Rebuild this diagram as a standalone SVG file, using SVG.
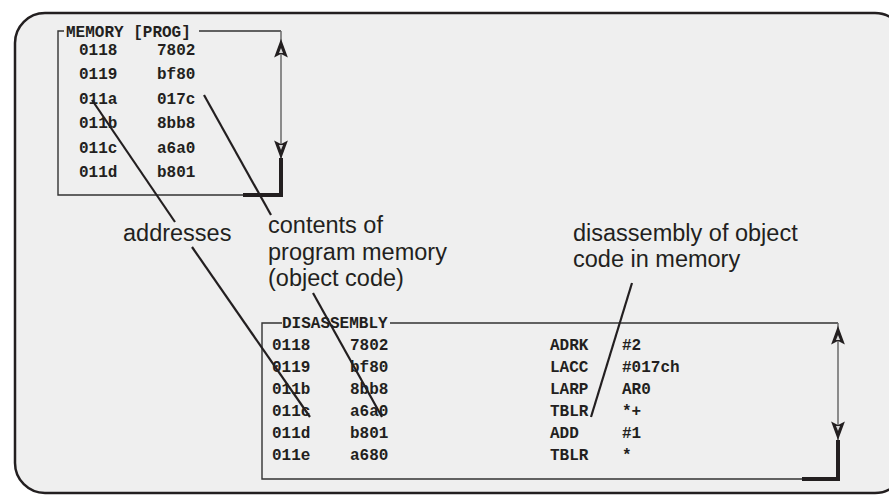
<svg xmlns="http://www.w3.org/2000/svg" width="889" height="495" viewBox="0 0 889 495">
<style>
.mono{font-family:"Liberation Mono","Courier New",monospace;font-weight:bold;font-size:16px;fill:#231f20}
.lbl{font-family:"Liberation Sans",Arial,sans-serif;font-size:23.5px;fill:#231f20}
.box{fill:none;stroke:#333;stroke-width:1.4}
.vline{stroke:#6a6a6a;stroke-width:1.5}
.thick{stroke:#231f20;stroke-width:4;fill:none}
.lead{stroke:#231f20;stroke-width:2.2;fill:none}
.ah{fill:#231f20;stroke:#231f20;stroke-width:1.5;stroke-linejoin:miter}
.ahi{fill:#d8d8d8}
</style>
<defs>
<g id="up"><path class="ah" d="M0,0 L5.5,15 L0,12 L-5.5,15 Z"/><path class="ahi" d="M0,7 L2,12 L-2,12 Z"/></g>
<g id="down"><path class="ah" d="M0,0 L5.5,-15 L0,-12 L-5.5,-15 Z"/><path class="ahi" d="M0,-7 L2,-12 L-2,-12 Z"/></g>
</defs>
<rect width="889" height="495" fill="#ffffff"/>
<rect x="15" y="13" width="890" height="480" rx="30" ry="30" fill="#efefef" stroke="#231f20" stroke-width="2.5"/>

<g id="memory">
<path class="box" d="M64,31 H58 V195 H245 M199,31 H281"/>
<text class="mono" x="66" y="37">MEMORY [PROG]</text>
<line class="vline" x1="281" y1="31" x2="281" y2="160"/>
<use href="#up" x="281" y="41"/>
<use href="#down" x="281" y="157"/>
<path class="thick" d="M281,158 V197 M243,195 H283"/>
<text class="mono" x="79" y="55">0118</text><text class="mono" x="157" y="55">7802</text>
<text class="mono" x="79" y="79">0119</text><text class="mono" x="157" y="79">bf80</text>
<text class="mono" x="79" y="104">011a</text><text class="mono" x="157" y="104">017c</text>
<text class="mono" x="79" y="128">011b</text><text class="mono" x="157" y="128">8bb8</text>
<text class="mono" x="79" y="153">011c</text><text class="mono" x="157" y="153">a6a0</text>
<text class="mono" x="79" y="177">011d</text><text class="mono" x="157" y="177">b801</text>
</g>

<g id="disassembly">
<path class="box" d="M282,323 H262 V479 H804 M390,323 H838"/>
<text class="mono" x="282" y="328">DISASSEMBLY</text>
<line class="vline" x1="838" y1="323" x2="838" y2="443"/>
<use href="#up" x="838" y="328"/>
<use href="#down" x="838" y="438"/>
<path class="thick" d="M838,440 V481 M802,479 H840"/>
<text class="mono" x="272" y="350">0118</text><text class="mono" x="350" y="350">7802</text><text class="mono" x="550" y="350">ADRK</text><text class="mono" x="622" y="350">#2</text>
<text class="mono" x="272" y="372">0119</text><text class="mono" x="350" y="372">bf80</text><text class="mono" x="550" y="372">LACC</text><text class="mono" x="622" y="372">#017ch</text>
<text class="mono" x="272" y="394">011b</text><text class="mono" x="350" y="394">8bb8</text><text class="mono" x="550" y="394">LARP</text><text class="mono" x="622" y="394">AR0</text>
<text class="mono" x="272" y="416">011c</text><text class="mono" x="350" y="416">a6a0</text><text class="mono" x="550" y="416">TBLR</text><text class="mono" x="622" y="416">*+</text>
<text class="mono" x="272" y="438">011d</text><text class="mono" x="350" y="438">b801</text><text class="mono" x="550" y="438">ADD</text><text class="mono" x="622" y="438">#1</text>
<text class="mono" x="272" y="460">011e</text><text class="mono" x="350" y="460">a680</text><text class="mono" x="550" y="460">TBLR</text><text class="mono" x="622" y="460">*</text>
</g>

<g id="labels">
<text class="lbl" x="123" y="241">addresses</text>
<text class="lbl" x="268" y="233">contents of</text>
<text class="lbl" x="268" y="260">program memory</text>
<text class="lbl" x="268" y="286">(object code)</text>
<text class="lbl" x="573" y="241">disassembly of object</text>
<text class="lbl" x="573" y="267">code in memory</text>
</g>

<g id="connectors">
<line class="lead" x1="92" y1="100" x2="175" y2="222"/>
<line class="lead" x1="192" y1="247" x2="310" y2="417"/>
<line class="lead" x1="204" y1="95" x2="271" y2="215"/>
<line class="lead" x1="313" y1="293" x2="382" y2="417"/>
<line class="lead" x1="591" y1="417" x2="632" y2="283"/>
</g>
</svg>
